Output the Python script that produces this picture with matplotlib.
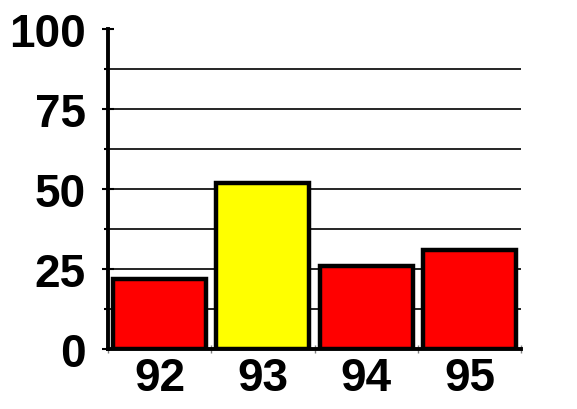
import matplotlib.pyplot as plt
from matplotlib.ticker import MultipleLocator

years = ['92', '93', '94', '95']
values = [22, 52, 26, 31]
colors = ['#ff0000', '#ffff00', '#ff0000', '#ff0000']
yticks = [0, 25, 50, 75, 100]

plt.rcParams['font.family'] = ['Liberation Sans', 'DejaVu Sans']

fig = plt.figure(figsize=(5.77, 4.10), dpi=100)
ax = fig.add_axes([108 / 577, 1 - 350 / 410, 413 / 577, 320 / 410])

x = range(len(years))
ax.bar(x, values, width=0.9, color=colors, edgecolor='black', linewidth=3.2, zorder=3)

ax.set_xlim(-0.5, len(years) - 0.5)
ax.set_ylim(0, 100)
ax.set_yticks(yticks)
ax.yaxis.set_minor_locator(MultipleLocator(12.5))
ax.grid(axis='y', which='both', color='black', linewidth=1.2, zorder=1)
ax.get_ygridlines()[-1].set_visible(False)

ax.set_xticks([i + 0.5 for i in range(-1, len(years))], minor=True)
ax.set_xticks(list(x))
ax.set_xticklabels(years)
ax.tick_params(axis='x', which='major', length=0, pad=5, labelsize=33)
ax.tick_params(axis='x', which='minor', length=6, direction='inout', color='gray', width=1)
ax.tick_params(axis='y', which='major', length=8, direction='inout', width=1.5, pad=12, labelsize=33)
ax.tick_params(axis='y', which='minor', length=3, direction='out', width=1.5)
for lbl in ax.get_xticklabels() + ax.get_yticklabels():
    lbl.set_fontweight('bold')

for s in ['top', 'right']:
    ax.spines[s].set_visible(False)
ax.spines['left'].set_linewidth(2.8)
ax.spines['bottom'].set_linewidth(2.8)

fig.savefig('out.png', dpi=100)
